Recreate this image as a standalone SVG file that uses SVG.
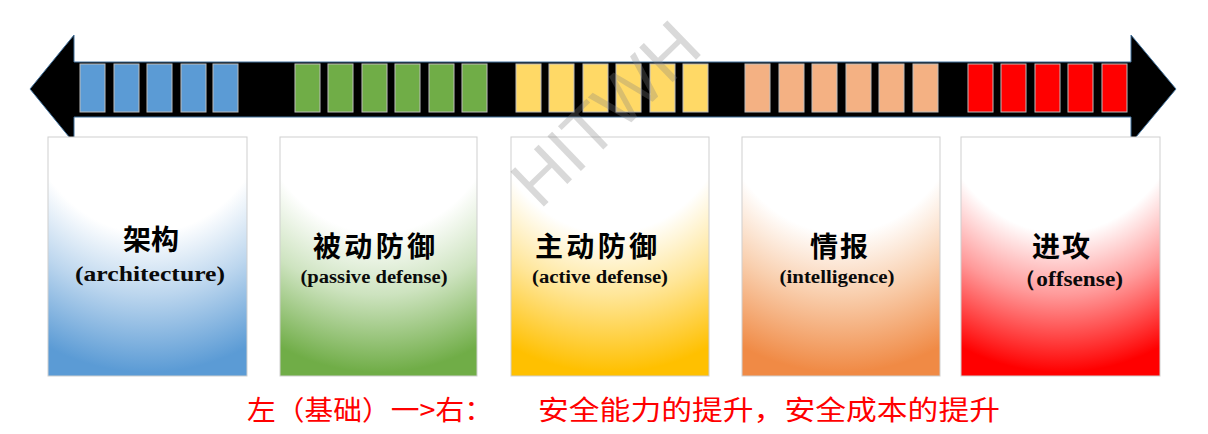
<svg xmlns="http://www.w3.org/2000/svg" width="1208" height="434" viewBox="0 0 1208 434">
<defs>
<radialGradient id="gBlue" cx="0.5" cy="-0.25" r="1.3" fx="0.5" fy="-0.25"><stop offset="0" stop-color="#fff"/><stop offset="0.5" stop-color="#fff"/><stop offset="0.7" stop-color="#bcd6ee"/><stop offset="0.95" stop-color="#5b9bd5"/></radialGradient>
<radialGradient id="gGreen" cx="0.5" cy="-0.25" r="1.3" fx="0.5" fy="-0.25"><stop offset="0" stop-color="#fff"/><stop offset="0.5" stop-color="#fff"/><stop offset="0.7" stop-color="#cde3bf"/><stop offset="0.95" stop-color="#70ad47"/></radialGradient>
<radialGradient id="gYellow" cx="0.5" cy="-0.25" r="1.3" fx="0.5" fy="-0.25"><stop offset="0" stop-color="#fff"/><stop offset="0.5" stop-color="#fff"/><stop offset="0.7" stop-color="#ffe699"/><stop offset="0.95" stop-color="#ffc000"/></radialGradient>
<radialGradient id="gOrange" cx="0.5" cy="-0.25" r="1.3" fx="0.5" fy="-0.25"><stop offset="0" stop-color="#fff"/><stop offset="0.5" stop-color="#fff"/><stop offset="0.7" stop-color="#f9cfae"/><stop offset="0.95" stop-color="#f08a45"/></radialGradient>
<radialGradient id="gRed" cx="0.5" cy="-0.25" r="1.3" fx="0.5" fy="-0.25"><stop offset="0" stop-color="#fff"/><stop offset="0.5" stop-color="#fff"/><stop offset="0.7" stop-color="#ff9a9a"/><stop offset="0.95" stop-color="#ff0000"/></radialGradient>
</defs>
<style>
.box{stroke:#cfcfcf;stroke-width:1}
.sq{stroke:#bdbdbd;stroke-width:1}
.b{fill:#5b9bd5}.g{fill:#70ad47}.y{fill:#ffd966}.o{fill:#f4b183}.r{fill:#ff0000}
.zh{font-family:"Noto Sans CJK SC",sans-serif;font-weight:bold;font-size:28px;fill:#000;text-anchor:middle}
.en{font-family:"Liberation Serif",serif;font-weight:bold;fill:#0a0a0a;text-anchor:middle}
.foot{font-family:"Noto Sans CJK SC",sans-serif;font-size:27px;fill:#ff0000}
</style>
<g id="arrow">
<path d="M30,89 L74,35 L74,62 L1131,62 L1131,35 L1176,89 L1131,143 L1131,117 L74,117 L74,143 Z" fill="#000" stroke="#41719c" stroke-width="1"/>
</g>
<g id="squares">
<rect class="sq b" x="80" y="64" width="25" height="48"/>
<rect class="sq b" x="114" y="64" width="25" height="48"/>
<rect class="sq b" x="147" y="64" width="25" height="48"/>
<rect class="sq b" x="181" y="64" width="25" height="48"/>
<rect class="sq b" x="213" y="64" width="25" height="48"/>
<rect class="sq g" x="295" y="64" width="25" height="48"/>
<rect class="sq g" x="328" y="64" width="25" height="48"/>
<rect class="sq g" x="362" y="64" width="25" height="48"/>
<rect class="sq g" x="395" y="64" width="25" height="48"/>
<rect class="sq g" x="429" y="64" width="25" height="48"/>
<rect class="sq g" x="462" y="64" width="25" height="48"/>
<rect class="sq y" x="516" y="64" width="25" height="48"/>
<rect class="sq y" x="549" y="64" width="25" height="48"/>
<rect class="sq y" x="583" y="64" width="25" height="48"/>
<rect class="sq y" x="616" y="64" width="25" height="48"/>
<rect class="sq y" x="650" y="64" width="25" height="48"/>
<rect class="sq y" x="683" y="64" width="25" height="48"/>
<rect class="sq o" x="745" y="64" width="25" height="48"/>
<rect class="sq o" x="779" y="64" width="25" height="48"/>
<rect class="sq o" x="812" y="64" width="25" height="48"/>
<rect class="sq o" x="846" y="64" width="25" height="48"/>
<rect class="sq o" x="879" y="64" width="25" height="48"/>
<rect class="sq o" x="913" y="64" width="25" height="48"/>
<rect class="sq r" x="968" y="64" width="25" height="48"/>
<rect class="sq r" x="1001" y="64" width="25" height="48"/>
<rect class="sq r" x="1035" y="64" width="25" height="48"/>
<rect class="sq r" x="1068" y="64" width="25" height="48"/>
<rect class="sq r" x="1102" y="64" width="25" height="48"/>
</g>
<g id="node-architecture">
<rect class="box" x="48" y="137" width="199" height="239" fill="url(#gBlue)"/>
<text class="zh" x="151" y="250" font-size="30">架构</text>
<text class="en" x="150" y="281" font-size="22" textLength="150" lengthAdjust="spacingAndGlyphs">(architecture)</text>
</g>
<g id="node-passive">
<rect class="box" x="280" y="137" width="197" height="239" fill="url(#gGreen)"/>
<text class="zh" x="374" y="257" textLength="122" lengthAdjust="spacing">被动防御</text>
<text class="en" x="374" y="283" font-size="18" textLength="147" lengthAdjust="spacingAndGlyphs">(passive defense)</text>
</g>
<g id="node-active">
<rect class="box" x="511" y="137" width="198" height="239" fill="url(#gYellow)"/>
<text class="zh" x="596" y="257" textLength="122" lengthAdjust="spacing">主动防御</text>
<text class="en" x="600" y="283" font-size="18" textLength="136" lengthAdjust="spacingAndGlyphs">(active defense)</text>
</g>
<g id="node-intelligence">
<rect class="box" x="742" y="137" width="198" height="239" fill="url(#gOrange)"/>
<text class="zh" x="839" y="257" textLength="58" lengthAdjust="spacing">情报</text>
<text class="en" x="837" y="283" font-size="18" textLength="115" lengthAdjust="spacingAndGlyphs">(intelligence)</text>
</g>
<g id="node-offense">
<rect class="box" x="961" y="137" width="199" height="239" fill="url(#gRed)"/>
<text class="zh" x="1061" y="257" textLength="58" lengthAdjust="spacing">进攻</text>
<text class="en" x="1068" y="286" font-size="22" textLength="110" lengthAdjust="spacingAndGlyphs">（offsense)</text>
</g>
<g id="footer">
<text class="foot" x="247" y="420" textLength="246" lengthAdjust="spacingAndGlyphs">左（基础）一&gt;右：</text>
<text class="foot" x="538" y="420" textLength="462" lengthAdjust="spacingAndGlyphs">安全能力的提升，安全成本的提升</text>
</g>
<g id="watermark">
<text x="607" y="137" transform="rotate(-44 607 115)" font-family="Liberation Sans, sans-serif" font-size="70" fill="#808080" fill-opacity="0.3" text-anchor="middle">HITWH</text>
</g>
</svg>
